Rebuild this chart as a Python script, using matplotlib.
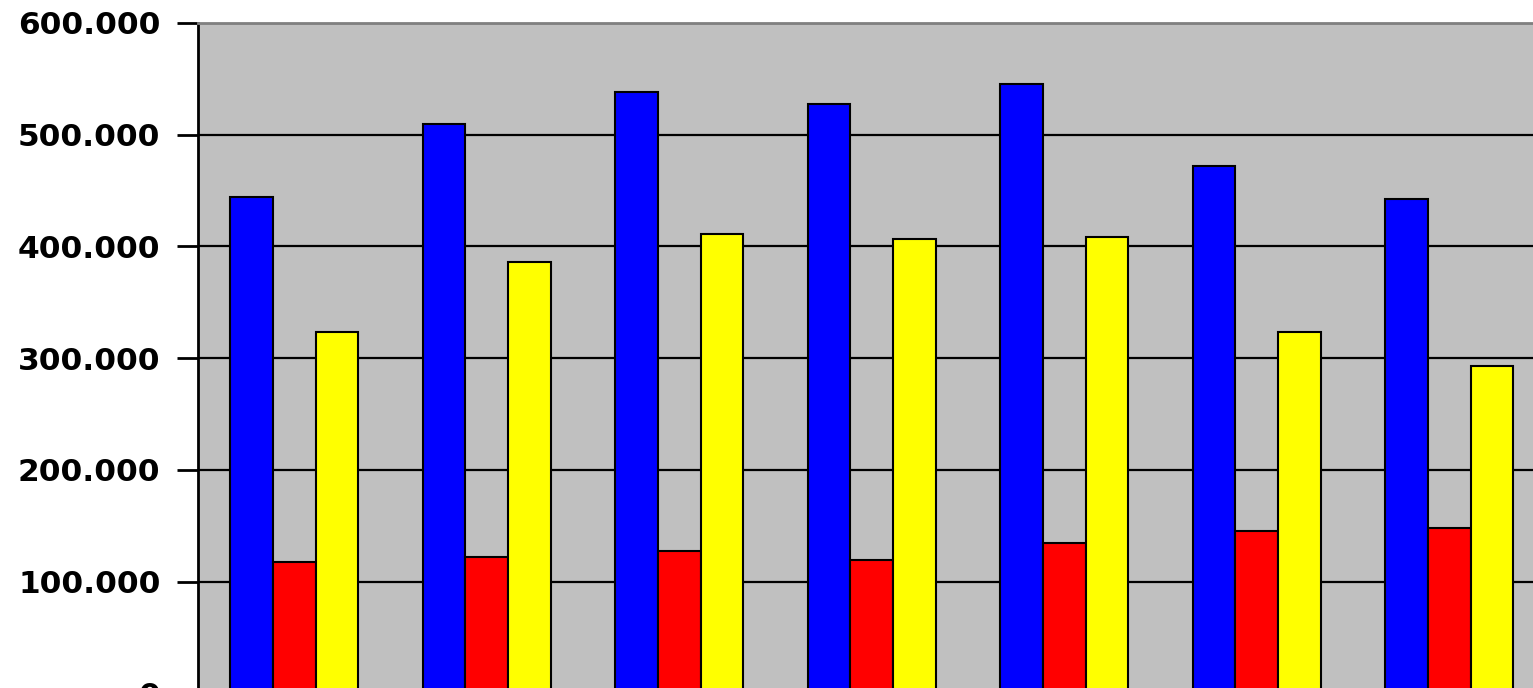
import matplotlib.pyplot as plt
import numpy as np

# values (thousands shown with "." separator)
groups = np.arange(7)
blue_vals = [444.2, 509.2, 538.5, 527.1, 545.0, 471.6, 442.7]
red_vals = [118.0, 122.5, 127.8, 119.5, 134.5, 145.8, 148.4]
yellow_vals = [323.9, 385.7, 411.6, 406.9, 408.7, 323.9, 293.2]
yticks = [0, 100, 200, 300, 400, 500, 600]
ytick_labels = ['0', '100.000', '200.000', '300.000', '400.000', '500.000', '600.000']

fig = plt.figure(figsize=(15.33, 6.88), dpi=100)
# plot area runs a little past the bottom and right edges of the picture
left = 198 / 1533.
right = 1545.5 / 1533.
top = 1 - 23 / 688.
bottom = 1 - 693.5 / 688.
ax = fig.add_axes([left, bottom, right - left, top - bottom])
ax.set_facecolor('#c0c0c0')

w = 1 / 4.5
ax.bar(groups - w, blue_vals, w, color='#0000ff', edgecolor='black', linewidth=1.5, zorder=3)
ax.bar(groups, red_vals, w, color='#ff0000', edgecolor='black', linewidth=1.5, zorder=3)
ax.bar(groups + w, yellow_vals, w, color='#ffff00', edgecolor='black', linewidth=1.5, zorder=3)

ax.set_xlim(-0.5, 6.5)
ax.set_ylim(0, 600)
ax.set_yticks(yticks)
ax.set_yticklabels(ytick_labels, fontsize=22.5, fontweight='bold', family='DejaVu Sans')
ax.tick_params(axis='y', length=15, width=2, pad=12)
ax.set_xticks([])

ax.yaxis.grid(True, color='black', linewidth=1.6, zorder=1)
ax.set_axisbelow(True)

ax.spines['left'].set_linewidth(2)
ax.spines['left'].set_color('black')
ax.spines['top'].set_color('#808080')
ax.spines['top'].set_linewidth(2)
ax.spines['right'].set_visible(False)
ax.spines['bottom'].set_visible(False)

fig.savefig('out.png', dpi=100)
